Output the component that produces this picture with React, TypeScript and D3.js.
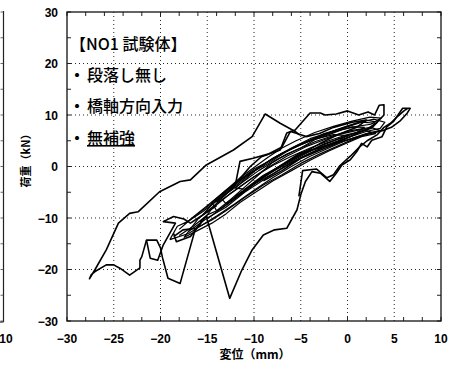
import { useEffect, useRef } from 'react';
import * as d3 from 'd3';

type Pt = [number, number];

const W = 459;
const H = 370;

const xTicks = [-30, -25, -20, -15, -10, -5, 0, 5, 10];
const yTicks = [30, 20, 10, 0, -10, -20, -30];

const noteTitle = '【NO1 試験体】';
const noteItems = ['段落し無し', '橋軸方向入力', '無補強'];

// dense band of small cycles
const band1: Pt[] = [[-11, -4.4], [-9, -1.7], [-7, 0.3], [-5, 2.3], [-3, 3.7], [-1, 5.0], [0, 6.0], [-1.5, 6.2], [-3.5, 5.3], [-5.5, 3.9], [-7.5, 2.1], [-9.5, -0.2], [-11, -2.6], [-12, -4.2], [-11, -4.4]];
const band2: Pt[] = [[-13, -7.2], [-11, -4.6], [-9, -1.9], [-7, 0.0], [-5, 2.0], [-3, 3.9], [-1, 5.3], [1, 6.6], [1.8, 7.6], [0.5, 7.7], [-1.5, 6.7], [-3.5, 5.4], [-6, 3.4], [-8, 1.6], [-10, -0.9], [-12, -3.8], [-13.5, -6.2], [-13, -7.2]];
const band3: Pt[] = [[-15, -10.2], [-13, -7.4], [-11, -4.8], [-9, -2.2], [-7, 0.2], [-5, 2.2], [-2.5, 4.4], [0, 6.0], [2, 7.2], [3, 8.4], [1.5, 8.6], [-0.5, 7.4], [-2.5, 6.4], [-4.5, 4.7], [-6.5, 2.9], [-8.5, 0.6], [-10.5, -1.4], [-12.5, -4.2], [-14.5, -7.4], [-15.5, -9.4]];
const band4: Pt[] = [[-17, -12.6], [-15, -10], [-13, -7.9], [-11, -5], [-9, -2.6], [-7, -0.4], [-5, 1.6], [-3, 3.4], [-1, 4.8], [1, 6.4], [2.5, 7.6], [3.2, 8.6], [2, 9.0], [0, 7.9], [-2, 6.6], [-4, 5.4], [-6, 3.6], [-8, 1.4], [-10, -0.5], [-12, -3.2], [-14, -6.4], [-16, -9.2], [-17.5, -11.2]];
const band5: Pt[] = [[-18, -13.4], [-16.5, -11.6], [-15, -9.4], [-13.5, -8.2], [-12, -6.2], [-10, -3.4], [-8, -1.4], [-6, 0.8], [-4, 2.6], [-2, 4.2], [0, 5.6], [2, 6.8], [3.5, 7.4], [4, 8.6], [2.8, 9.2], [1, 8.4], [-1, 7.2], [-3, 5.8], [-5, 4.4], [-7, 2.6], [-9, 0.4], [-11, -2], [-13, -4.6], [-15, -7.6], [-16.5, -9.8], [-18, -12.2]];
const band6: Pt[] = [[-19, -14.2], [-17, -13], [-15.5, -11.3], [-14, -9.6], [-12, -7.2], [-10, -4.6], [-8, -2.2], [-6, 0.0], [-4, 2.0], [-2, 3.6], [0, 5.2], [2, 6.4], [3.5, 7.0], [2.5, 7.6], [0.5, 7], [-1.5, 6], [-3.5, 4.8], [-5.5, 3.2], [-7.5, 1.4], [-9.5, -0.8], [-11.5, -3.4], [-13.5, -6], [-15.5, -8.8], [-17, -10.6], [-18.2, -11.6], [-19, -14.2]];
const band7: Pt[] = [[-16, -11.8], [-14.5, -10.4], [-13, -8.6], [-11, -6], [-9, -3.6], [-7, -1.6], [-5, 0.6], [-3, 2.4], [-1, 4.0], [1, 5.6], [2.5, 6.6], [1.5, 7.2], [-0.5, 6.4], [-2.5, 5.2], [-4.5, 3.8], [-6.5, 2.0], [-8.5, -0.2], [-10.5, -2.6], [-12.5, -5.2], [-14.5, -8.2], [-16, -11.8]];
const band8: Pt[] = [[-17.5, -13.8], [-16, -12.4], [-14.5, -11], [-13, -9.2], [-11.5, -7.0], [-10, -5.2], [-8, -2.8], [-6, -0.8], [-4, 1.2], [-2, 3.0], [0, 4.6], [1.5, 5.8], [3, 6.4], [2, 7.0], [0, 6.2], [-2, 5.0], [-4, 3.6], [-6, 2.0], [-8, 0.2], [-10, -2.0], [-12, -4.6], [-14, -7.2], [-16, -10.2], [-17.5, -13.8]];
const band9: Pt[] = [[-14, -8.6], [-12.5, -6.4], [-11, -4.0], [-9.5, -1.6], [-8, 0.8], [-6.5, 2.4], [-5, 3.6], [-3.5, 5.2], [-2, 6.2], [-0.5, 7.2], [1, 7.8], [2.5, 8.2], [3.6, 9.4], [2.4, 9.6], [0.5, 8.8], [-1.5, 7.8], [-3.5, 6.6], [-5.5, 5.0], [-7, 3.6], [-8.5, 1.8], [-10, -0.2], [-11.5, -2.2], [-13, -4.6], [-14.5, -7.0], [-14, -8.6]];

// large outer cycles
const leftLoop: Pt[] = [[-5.1, 6.1], [-5.6, 6.8], [-7.2, 8.4], [-8.8, 10.2], [-10.2, 5.8], [-12.2, 3.2], [-15.1, 0.3], [-16.8, -2.6], [-17.9, -2.9], [-20.1, -4.9], [-22.4, -8.8], [-23.3, -9.1], [-24.5, -11], [-25.8, -16.2], [-27, -20], [-27.6, -21.8], [-27.4, -21.0], [-27, -20.4], [-25.8, -19.1], [-25, -19.1], [-24.3, -19.8], [-23.3, -21.1], [-22.2, -19.7], [-22.2, -18.2], [-22, -17.5], [-21.5, -14.3], [-20.4, -14.3], [-20, -15.8], [-19.8, -17.6], [-19.2, -21.7], [-17.9, -22.7], [-16.3, -12.3], [-15.5, -10.5]];
const leftBox: Pt[] = [[-21.5, -14.3], [-21.1, -17.8], [-20.3, -18.2], [-19.7, -15.2], [-18.4, -11], [-19.7, -10.7], [-18.6, -9.7], [-17.5, -10.2], [-16.8, -11], [-15.8, -9.8], [-14, -7.6]];
const leftSmall: Pt[] = [[-18.6, -13.6], [-17.6, -12.3], [-16.1, -12], [-16.8, -13.6], [-18.3, -14.6], [-18.6, -13]];
const rightLoop: Pt[] = [[-15.8, -10.8], [-15.1, -9.7], [-12.6, -25.6], [-11.3, -20.1], [-10.2, -16.2], [-9.0, -13.3], [-7.8, -12.3], [-6.5, -12], [-5.4, -8.4], [-5.0, -5.5], [-4.5, -2.9], [-3.8, -1], [-2.9, -1.3], [-1.9, -2.9], [-1.2, -1.3], [-0.6, 0.3], [0.3, 1.3], [1.0, 2.9], [1.5, 4.5], [2.1, 3.8], [2.6, 5.1], [3.7, 5.8], [4.2, 7.7], [4.9, 8.7], [5.4, 10], [5.9, 11.3], [6.7, 11.3], [6.4, 10.4], [5.6, 8.8], [4.7, 7.6], [3.8, 7.0], [2, 6.2], [-1, 4.6], [-5.1, 2.6], [-8, -0.8], [-10, -3.2]];
const rightInner: Pt[] = [[-5.2, -5.8], [-4.8, -0.8], [-3.3, -0.5], [-2.2, -2.2], [-1.5, -1.6], [-0.8, 0.2], [0.3, 2.0], [1.3, 3.8], [2.1, 5.0], [3.2, 6.2], [3.9, 7.6], [4.6, 8.4], [5.4, 9.8], [6.1, 10.9], [6.4, 11.2]];
const upperLoop: Pt[] = [[-12.5, -4.2], [-11.9, -3.2], [-10.4, 0], [-9.2, 1.9], [-7.2, 3.2], [-6.5, 6.5], [-5.6, 7.1], [-4, 10.4], [-2.9, 10.4], [-2.4, 10], [-1.2, 10.2], [0, 10.8], [1.2, 10], [2.2, 10.6], [2.9, 10], [3.4, 11.9], [3.9, 12.0], [3.9, 10], [2.6, 7.5], [1.5, 6.8], [0.3, 5.8], [-1.5, 4.2], [-2.9, 3.2], [-5, 1.6], [-7, -0.8], [-9, -2.8]];
const midLoop: Pt[] = [[-14, -7], [-12, -3.6], [-11.5, 1], [-10.1, 1.6], [-8.5, 2.4], [-7, 3.8], [-6.1, 6.8], [-5.4, 6.4], [-4.4, 5.8], [-3, 6.4], [-1.5, 7.6], [0.5, 8.6], [2, 9.0], [1, 7.6], [-1, 6.2], [-3, 4.4], [-6, 1.4], [-9, -2], [-12, -5.8]];

const bandLoops = [band1, band2, band3, band4, band5, band6, band7, band8, band9];
const outerLoops = [midLoop, upperLoop, rightInner, rightLoop, leftBox, leftSmall, leftLoop];

export default function App() {
  const svgRef = useRef<SVGSVGElement>(null);

  useEffect(() => {
    const svg = d3.select(svgRef.current);
    svg.selectAll('*').remove();

    const x = d3.scaleLinear().domain([-30, 10]).range([67, 441]);
    const y = d3.scaleLinear().domain([-30, 30]).range([321, 12]);
    const tickFont = '"Liberation Sans", Arial, sans-serif';
    const jpFont = '"Noto Sans CJK JP", sans-serif';

    // remnant of the neighbouring panel
    const left = svg.append('g');
    left.append('line').attr('x1', 3.5).attr('x2', 3.5).attr('y1', 11).attr('y2', 322)
      .attr('stroke', '#222').attr('stroke-width', 1.2);
    left.append('line').attr('x1', 0).attr('x2', 3.5).attr('y1', 322).attr('y2', 322)
      .attr('stroke', '#222').attr('stroke-width', 1.2);
    y.ticks(12).forEach(t => {
      left.append('line').attr('x1', 0.5).attr('x2', 3.5).attr('y1', y(t)).attr('y2', y(t))
        .attr('stroke', '#444').attr('stroke-width', 0.8);
    });
    left.append('text').attr('x', 6).attr('y', 343).attr('text-anchor', 'middle')
      .attr('font-family', tickFont).attr('font-weight', 'bold').attr('font-size', 12).text('10');

    // grid
    const grid = svg.append('g').attr('stroke', '#111').attr('stroke-width', 0.9).attr('stroke-dasharray', '1,3');
    xTicks.slice(1, -1).forEach(t => {
      grid.append('line').attr('x1', x(t)).attr('x2', x(t)).attr('y1', y(30)).attr('y2', y(-30));
    });
    yTicks.slice(1, -1).forEach(t => {
      grid.append('line').attr('x1', x(-30)).attr('x2', x(10)).attr('y1', y(t)).attr('y2', y(t));
    });

    // inner ticks
    const ticks = svg.append('g').attr('stroke', '#222').attr('stroke-width', 1);
    x.ticks(16).forEach(t => {
      ticks.append('line').attr('x1', x(t)).attr('x2', x(t)).attr('y1', y(-30)).attr('y2', y(-30) - 4);
      ticks.append('line').attr('x1', x(t)).attr('x2', x(t)).attr('y1', y(30)).attr('y2', y(30) + 4);
    });
    y.ticks(12).forEach(t => {
      ticks.append('line').attr('x1', x(-30)).attr('x2', x(-30) + 4).attr('y1', y(t)).attr('y2', y(t));
      ticks.append('line').attr('x1', x(10)).attr('x2', x(10) - 4).attr('y1', y(t)).attr('y2', y(t));
    });

    // frame
    svg.append('rect').attr('x', x(-30)).attr('y', y(30))
      .attr('width', x(10) - x(-30)).attr('height', y(-30) - y(30))
      .attr('fill', 'none').attr('stroke', '#111').attr('stroke-width', 1.3);

    // tick labels
    const fmt = (v: number) => (v < 0 ? '\u2212' + Math.abs(v) : String(v));
    xTicks.forEach(t => {
      svg.append('text').attr('x', x(t)).attr('y', 343).attr('text-anchor', 'middle')
        .attr('font-family', tickFont).attr('font-weight', 'bold').attr('font-size', 12)
        .text(fmt(t));
    });
    yTicks.forEach(t => {
      svg.append('text').attr('x', 58).attr('y', y(t) + 4.5).attr('text-anchor', 'end')
        .attr('font-family', tickFont).attr('font-weight', 'bold').attr('font-size', 12)
        .text(fmt(t));
    });

    // axis titles
    svg.append('text').attr('x', 255).attr('y', 359).attr('text-anchor', 'middle')
      .attr('font-family', jpFont).attr('font-weight', 'bold').attr('font-size', 12)
      .text('変位（mm）');
    svg.append('text').attr('transform', 'translate(30,158) rotate(-90)').attr('text-anchor', 'middle')
      .attr('font-family', jpFont).attr('font-weight', 'bold').attr('font-size', 11)
      .text('荷重（kN）');

    // hysteresis curves
    const line = d3.line<Pt>().x(d => x(d[0])).y(d => y(d[1]));
    svg.append('g').selectAll('path').data(bandLoops).join('path')
      .attr('d', d => line(d))
      .attr('fill', 'none').attr('stroke', '#000').attr('stroke-width', 1.2)
      .attr('stroke-linejoin', 'round');
    svg.append('g').selectAll('path').data(outerLoops).join('path')
      .attr('d', d => line(d))
      .attr('fill', 'none').attr('stroke', '#000').attr('stroke-width', 1.6)
      .attr('stroke-linejoin', 'round');

    // annotation
    const note = svg.append('g').attr('font-family', jpFont).attr('font-size', 16).attr('fill', '#000');
    note.append('text').attr('x', 70).attr('y', 50).attr('font-weight', 500).text(noteTitle);
    const baselines = [81, 112, 144];
    noteItems.forEach((s, i) => {
      note.append('text').attr('x', 77).attr('y', baselines[i]).attr('text-anchor', 'middle')
        .attr('font-weight', 'bold').text('・');
      note.append('text').attr('x', 87).attr('y', baselines[i]).attr('font-weight', 500)
        .attr('text-decoration', i === 2 ? 'underline' : null).text(s);
    });
  }, []);

  return (
    <svg ref={svgRef} width={W} height={H}
      style={{ position: 'absolute', left: 0, top: 0, background: '#fff' }} />
  );
}
